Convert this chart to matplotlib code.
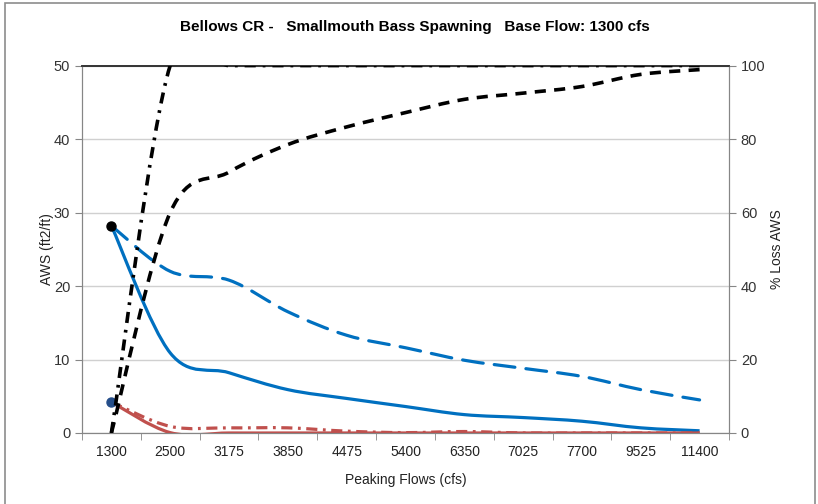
import matplotlib
matplotlib.use('Agg')
import matplotlib.pyplot as plt
import numpy as np
from matplotlib.path import Path
from matplotlib.patches import PathPatch, Rectangle

plt.rcParams['lines.scale_dashes'] = False
plt.rcParams['font.family'] = ['Liberation Sans', 'DejaVu Sans']

flows = ['1300', '2500', '3175', '3850', '4475', '5400', '6350', '7025', '7700', '9525', '11400']

# left axis: AWS (ft2/ft)
aws_solid = [28.2, 10.9, 8.2, 5.9, 4.7, 3.6, 2.5, 2.1, 1.6, 0.7, 0.3]
aws_dashed = [28.2, 22.0, 20.8, 16.5, 13.3, 11.6, 9.9, 8.8, 7.7, 5.9, 4.5]
red_solid = [4.2, 0.05, 0.0, 0.0, 0.0, 0.0, 0.0, 0.0, 0.0, 0.0, 0.0]
red_dashdot = [4.2, 0.9, 0.7, 0.7, 0.25, 0.05, 0.2, 0.0, 0.0, 0.0, 0.0]

# right axis: % loss AWS
loss_dashdot = [0, 100, 100, 100, 100, 100, 100, 100, 100, 100, 100]
loss_dashed = [0, 60, 71, 78.5, 83.3, 87.2, 90.8, 92.5, 94.3, 97.6, 98.9]

# base flow points
base_aws = 28.2
base_red = 4.2


def smooth_patch(ax, xs, ys, **kw):
    """Excel-style smoothed line as a bezier path in data coords."""
    p = np.column_stack([xs, ys]).astype(float)
    n = len(p)
    verts = [p[0]]
    codes = [Path.MOVETO]
    for i in range(n - 1):
        p0 = p[max(i - 1, 0)]
        p1 = p[i]
        p2 = p[i + 1]
        p3 = p[min(i + 2, n - 1)]
        c1 = p1 + (p2 - p0) / 6.0
        c2 = p2 - (p3 - p1) / 6.0
        verts += [c1, c2, p2]
        codes += [Path.CURVE4] * 3
    patch = PathPatch(Path(verts, codes), fill=False, transform=ax.transData, **kw)
    ax.add_patch(patch)
    return patch


fig = plt.figure(figsize=(8.18, 5.04), dpi=100)
ax = fig.add_axes([0.1002, 0.1409, 0.7910, 0.7290])
ax2 = ax.twinx()

x = np.arange(len(flows))

blue = '#0070C0'
red = '#C0504D'

smooth_patch(ax, x, aws_dashed, edgecolor=blue, lw=2.3,
             linestyle=(0, (15, 8)), capstyle='round', zorder=3)
smooth_patch(ax, x, aws_solid, edgecolor=blue, lw=2.3, zorder=3)
smooth_patch(ax, x, red_dashdot, edgecolor=red, lw=2.3,
             linestyle=(0, (8, 4, 2, 4)), zorder=3)
smooth_patch(ax, x, red_solid, edgecolor=red, lw=2.3, zorder=3)
ax.plot([0], [base_aws], 'o', color='black', ms=6.5, zorder=5)
ax.plot([0], [base_red], 'o', color='#254E8A', ms=6.5, zorder=5)

smooth_patch(ax2, x, loss_dashed, edgecolor='black', lw=2.6,
             linestyle=(0, (8, 6)), zorder=3)
smooth_patch(ax2, x, loss_dashdot, edgecolor='black', lw=2.6,
             linestyle=(0, (8, 5, 2, 5)), zorder=3)

ax.set_xlim(-0.5, len(flows) - 0.5)
ax.set_ylim(0, 50)
ax2.set_ylim(0, 100)
ax.set_yticks(range(0, 51, 10))
ax2.set_yticks(range(0, 101, 20))
ax.set_xticks(x)
ax.set_xticklabels(flows)
ax.set_xticks(np.arange(-0.5, len(flows), 1), minor=True)
ax.tick_params(axis='x', which='major', length=0, pad=9, labelsize=10, labelcolor='#222222')
ax.tick_params(axis='x', which='minor', length=5, color='#868686', direction='out')
ax.tick_params(axis='y', length=5, color='#868686', labelsize=10.5, labelcolor='#333333')
ax2.tick_params(axis='y', length=5, color='#868686', labelsize=10.5, labelcolor='#333333')

ax.grid(True, axis='y', color='#D0D0D0', lw=1)
ax.set_axisbelow(True)

for a in (ax, ax2):
    for s in ('left', 'right', 'bottom'):
        a.spines[s].set_color('#868686')
    a.spines['top'].set_color('#333333')
    a.spines['top'].set_linewidth(1.2)
    a.set_facecolor('none')

ax.set_ylabel('AWS (ft2/ft)', fontsize=10, color='#222222', labelpad=0)
ax2.set_ylabel('% Loss AWS', fontsize=10, color='#222222', labelpad=3)
ax.set_xlabel('Peaking Flows (cfs)', fontsize=10, color='#222222', labelpad=10)

fig.text(0.507, 0.946, 'Bellows CR -   Smallmouth Bass Spawning   Base Flow: 1300 cfs',
         ha='center', va='center', fontsize=11, fontweight='bold')

fig.patches.append(Rectangle((0.006, -0.01), 0.99, 1.005, transform=fig.transFigure,
                             fill=False, edgecolor='#8C8C8C', lw=1.2))

fig.savefig('out.png', dpi=100)
